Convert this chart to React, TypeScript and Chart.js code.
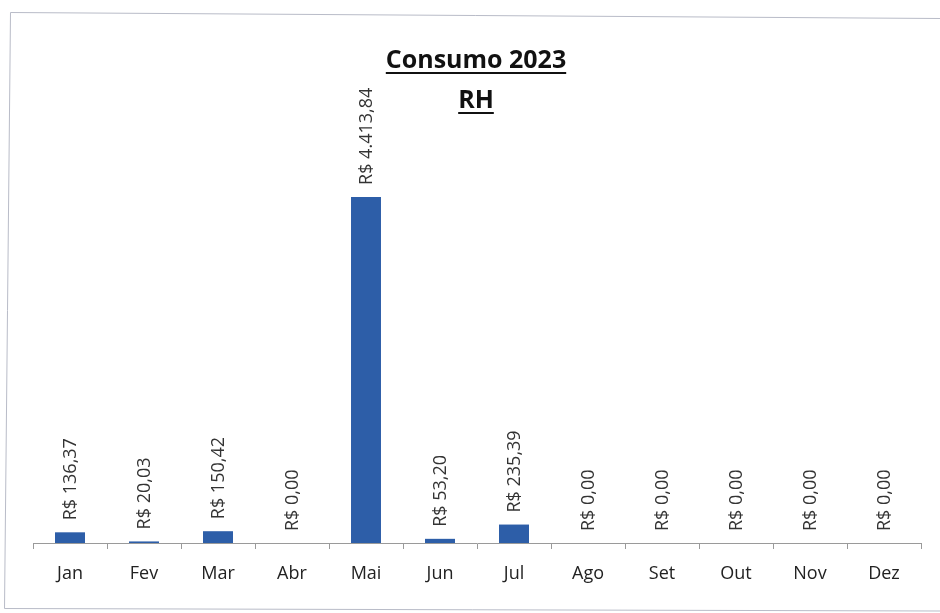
import React, { useEffect, useRef } from "react";
import { Chart, registerables } from "chart.js";

Chart.register(...registerables);

const months = ["Jan", "Fev", "Mar", "Abr", "Mai", "Jun", "Jul", "Ago", "Set", "Out", "Nov", "Dez"];
const consumo = [136.37, 20.03, 150.42, 0, 4413.84, 53.2, 235.39, 0, 0, 0, 0, 0];
const titleLines = ["Consumo 2023", "RH"];

const fmt = (v: number) =>
  "R$ " +
  v.toLocaleString("pt-BR", { minimumFractionDigits: 2, maximumFractionDigits: 2 });

const FONT = "'Open Sans', 'Noto Sans', sans-serif";

export default function App() {
  const ref = useRef<HTMLCanvasElement | null>(null);

  useEffect(() => {
    if (!ref.current) return;

    const framePlugin = {
      id: "frame",
      beforeDraw(chart: any) {
        const ctx = chart.ctx;
        ctx.save();
        ctx.fillStyle = "#ffffff";
        ctx.fillRect(0, 0, chart.width, chart.height);
        ctx.strokeStyle = "#b9bcc8";
        ctx.lineWidth = 1;
        ctx.beginPath();
        ctx.moveTo(940, 18.5);
        ctx.lineTo(10.5, 12.5);
        ctx.lineTo(4.5, 608.5);
        ctx.lineTo(940, 611);
        ctx.stroke();
        ctx.restore();
      },
    };

    const titlePlugin = {
      id: "titleUnderline",
      afterDraw(chart: any) {
        const ctx = chart.ctx;
        ctx.save();
        ctx.fillStyle = "#111111";
        ctx.strokeStyle = "#111111";
        ctx.textAlign = "center";
        ctx.textBaseline = "alphabetic";
        ctx.font = `bold 25px ${FONT}`;
        const cx = 476;
        const baselines = [68, 108];
        titleLines.forEach((t, i) => {
          const y = baselines[i];
          ctx.fillText(t, cx, y);
          const w = ctx.measureText(t).width;
          ctx.lineWidth = 2;
          ctx.beginPath();
          ctx.moveTo(cx - w / 2, y + 5);
          ctx.lineTo(cx + w / 2, y + 5);
          ctx.stroke();
        });
        ctx.restore();
      },
    };

    const labelPlugin = {
      id: "barLabels",
      afterDatasetsDraw(chart: any) {
        const ctx = chart.ctx;
        const meta = chart.getDatasetMeta(0);
        const data = chart.data.datasets[0].data as number[];
        ctx.save();
        ctx.fillStyle = "#333333";
        ctx.font = `18px ${FONT}`;
        ctx.textAlign = "left";
        ctx.textBaseline = "middle";
        meta.data.forEach((bar: any, i: number) => {
          ctx.save();
          ctx.translate(bar.x + 1, bar.y - 12);
          ctx.rotate(-Math.PI / 2);
          ctx.fillText(fmt(data[i]), 0, 0);
          ctx.restore();
        });
        ctx.restore();
      },
    };

    const chart = new Chart(ref.current, {
      type: "bar",
      data: {
        labels: months,
        datasets: [
          {
            data: consumo,
            backgroundColor: "#2d5ea8",
            borderWidth: 0,
            barPercentage: 0.405,
            categoryPercentage: 1,
          },
        ],
      },
      options: {
        animation: false,
        responsive: false,
        maintainAspectRatio: false,
        layout: { padding: { top: 151, left: 33, right: 19, bottom: 0 } },
        plugins: {
          legend: { display: false },
          title: { display: false },
          tooltip: { enabled: false },
        },
        scales: {
          x: {
            offset: true,
            grid: {
              display: true,
              offset: true,
              drawOnChartArea: false,
              drawTicks: true,
              tickLength: 6,
              color: "#9a9a9a",
            },
            border: { display: true, color: "#9a9a9a", width: 1 },
            ticks: {
              color: "#222222",
              font: { family: FONT, size: 18 },
              padding: 14,
              maxRotation: 0,
              autoSkip: false,
            },
            afterFit(scale: any) {
              scale.height = 70;
            },
          },
          y: {
            display: false,
            min: 0,
            max: 5000,
          },
        },
      },
      plugins: [framePlugin, titlePlugin, labelPlugin],
    });

    return () => chart.destroy();
  }, []);

  return (
    <div style={{ position: "fixed", left: 0, top: 0, width: 940, height: 613 }}>
      <canvas ref={ref} width={940} height={613} style={{ display: "block" }} />
    </div>
  );
}
